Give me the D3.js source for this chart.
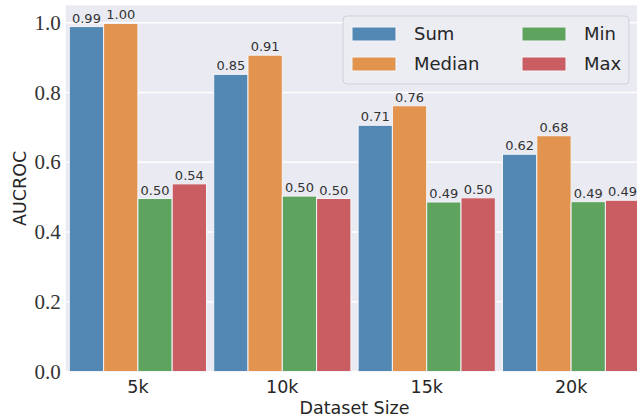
<!DOCTYPE html>
<html>
<head>
<meta charset="utf-8">
<script src="https://cdn.jsdelivr.net/npm/d3@7"></script>
<style>
  body { margin: 0; background: #fff; }
  svg { display: block; }
</style>
</head>
<body>
<div id="chart"></div>
<script>
// data (bar heights estimated, labels are 2 decimals)
var sizes = ["5k", "10k", "15k", "20k"];
var methods = ["Sum", "Median", "Min", "Max"];
var sumVals = [0.989, 0.852, 0.706, 0.623];
var medianVals = [0.998, 0.907, 0.762, 0.676];
var minVals = [0.496, 0.503, 0.486, 0.487];
var maxVals = [0.538, 0.496, 0.498, 0.491];
var yTicks = [0.0, 0.2, 0.4, 0.6, 0.8, 1.0];

var colors = ["#5288b3", "#e2944f", "#5ea45f", "#c95d62"];
var series = [sumVals, medianVals, minVals, maxVals];

var rows = [];
sizes.forEach(function(s, i) {
  methods.forEach(function(m, j) {
    rows.push({size: s, method: m, value: series[j][i], color: colors[j]});
  });
});

var W = 637, H = 417;
// plot area (runs a bit past the right edge, like the cropped original)
var pLeft = 65.7, pRight = 643.3, pTop = 5.3, pBottom = 371.5;

var svg = d3.select("#chart").append("svg")
  .attr("width", W)
  .attr("height", H);

// axes background
svg.append("rect")
  .attr("x", pLeft).attr("y", pTop)
  .attr("width", pRight - pLeft).attr("height", pBottom - pTop)
  .attr("fill", "#eaeaf2");

var x = d3.scaleBand()
  .domain(sizes)
  .range([pLeft, pRight])
  .paddingInner(0.05)
  .paddingOuter(0.025);

var xInner = d3.scaleBand()
  .domain(methods)
  .range([0, x.bandwidth()]);

var y = d3.scaleLinear()
  .domain([0, 1.05])
  .range([pBottom, pTop]);

// grid
svg.append("g")
  .selectAll("line")
  .data(yTicks)
  .enter()
  .append("line")
  .attr("x1", pLeft).attr("x2", pRight)
  .attr("y1", function(d) { return y(d); })
  .attr("y2", function(d) { return y(d); })
  .attr("stroke", "#fff")
  .attr("stroke-width", 1.4);

// bars
svg.append("g")
  .selectAll("rect")
  .data(rows)
  .enter()
  .append("rect")
  .attr("x", function(d) { return x(d.size) + xInner(d.method); })
  .attr("y", function(d) { return y(d.value); })
  .attr("width", xInner.bandwidth())
  .attr("height", function(d) { return pBottom - y(d.value); })
  .attr("fill", function(d) { return d.color; })
  .attr("stroke", "#f4f4f8")
  .attr("stroke-width", 1);

// value labels
svg.append("g")
  .selectAll("text")
  .data(rows)
  .enter()
  .append("text")
  .attr("x", function(d) { return x(d.size) + xInner(d.method) + xInner.bandwidth() / 2; })
  .attr("y", function(d) { return y(d.value) - 4; })
  .attr("text-anchor", "middle")
  .style("font-family", "DejaVu Sans, sans-serif")
  .style("font-size", "13px")
  .attr("fill", "#333")
  .text(function(d) { return d.value.toFixed(2); });

// y axis tick labels (serif, like the tex labels)
var yAxis = svg.append("g")
  .attr("transform", "translate(" + (pLeft - 5) + ",0)")
  .call(d3.axisLeft(y).tickValues(yTicks).tickSize(0).tickPadding(0)
    .tickFormat(d3.format(".1f")));
yAxis.select(".domain").remove();
yAxis.selectAll("text")
  .style("font-family", "Liberation Serif, serif")
  .style("font-size", "21px")
  .attr("fill", "#333");

// x axis tick labels
var xAxis = svg.append("g")
  .attr("transform", "translate(0," + pBottom + ")")
  .call(d3.axisBottom(x).tickSize(0).tickPadding(9));
xAxis.select(".domain").remove();
xAxis.selectAll("text")
  .style("font-family", "DejaVu Sans, sans-serif")
  .style("font-size", "17.5px")
  .attr("fill", "#262626");

// axis titles
svg.append("text")
  .attr("x", (pLeft + pRight) / 2)
  .attr("y", 414)
  .attr("text-anchor", "middle")
  .style("font-family", "DejaVu Sans, sans-serif")
  .style("font-size", "17.5px")
  .attr("fill", "#262626")
  .text("Dataset Size");

svg.append("text")
  .attr("transform", "translate(26," + ((pTop + pBottom) / 2) + ") rotate(-90)")
  .attr("text-anchor", "middle")
  .style("font-family", "DejaVu Sans, sans-serif")
  .style("font-size", "17.5px")
  .attr("fill", "#262626")
  .text("AUCROC");

// legend
var legend = svg.append("g").attr("transform", "translate(343,16)");
legend.append("rect")
  .attr("width", 286).attr("height", 68)
  .attr("rx", 4)
  .attr("fill", "#ececf3")
  .attr("stroke", "#d0d0d8")
  .attr("stroke-width", 1);

var items = legend.selectAll("g.item")
  .data(methods)
  .enter()
  .append("g")
  .attr("class", "item")
  .attr("transform", function(d, i) {
    return "translate(" + (i < 2 ? 9 : 179) + "," + (i % 2 === 0 ? 11 : 41) + ")";
  });

items.append("rect")
  .attr("width", 44).attr("height", 14)
  .attr("fill", function(d, i) { return colors[i]; })
  .attr("stroke", "#f4f4f8")
  .attr("stroke-width", 1);

items.append("text")
  .attr("x", 62)
  .attr("y", 7)
  .attr("dy", "0.36em")
  .style("font-family", "DejaVu Sans, sans-serif")
  .style("font-size", "18px")
  .attr("fill", "#262626")
  .text(function(d) { return d; });
</script>
</body>
</html>
